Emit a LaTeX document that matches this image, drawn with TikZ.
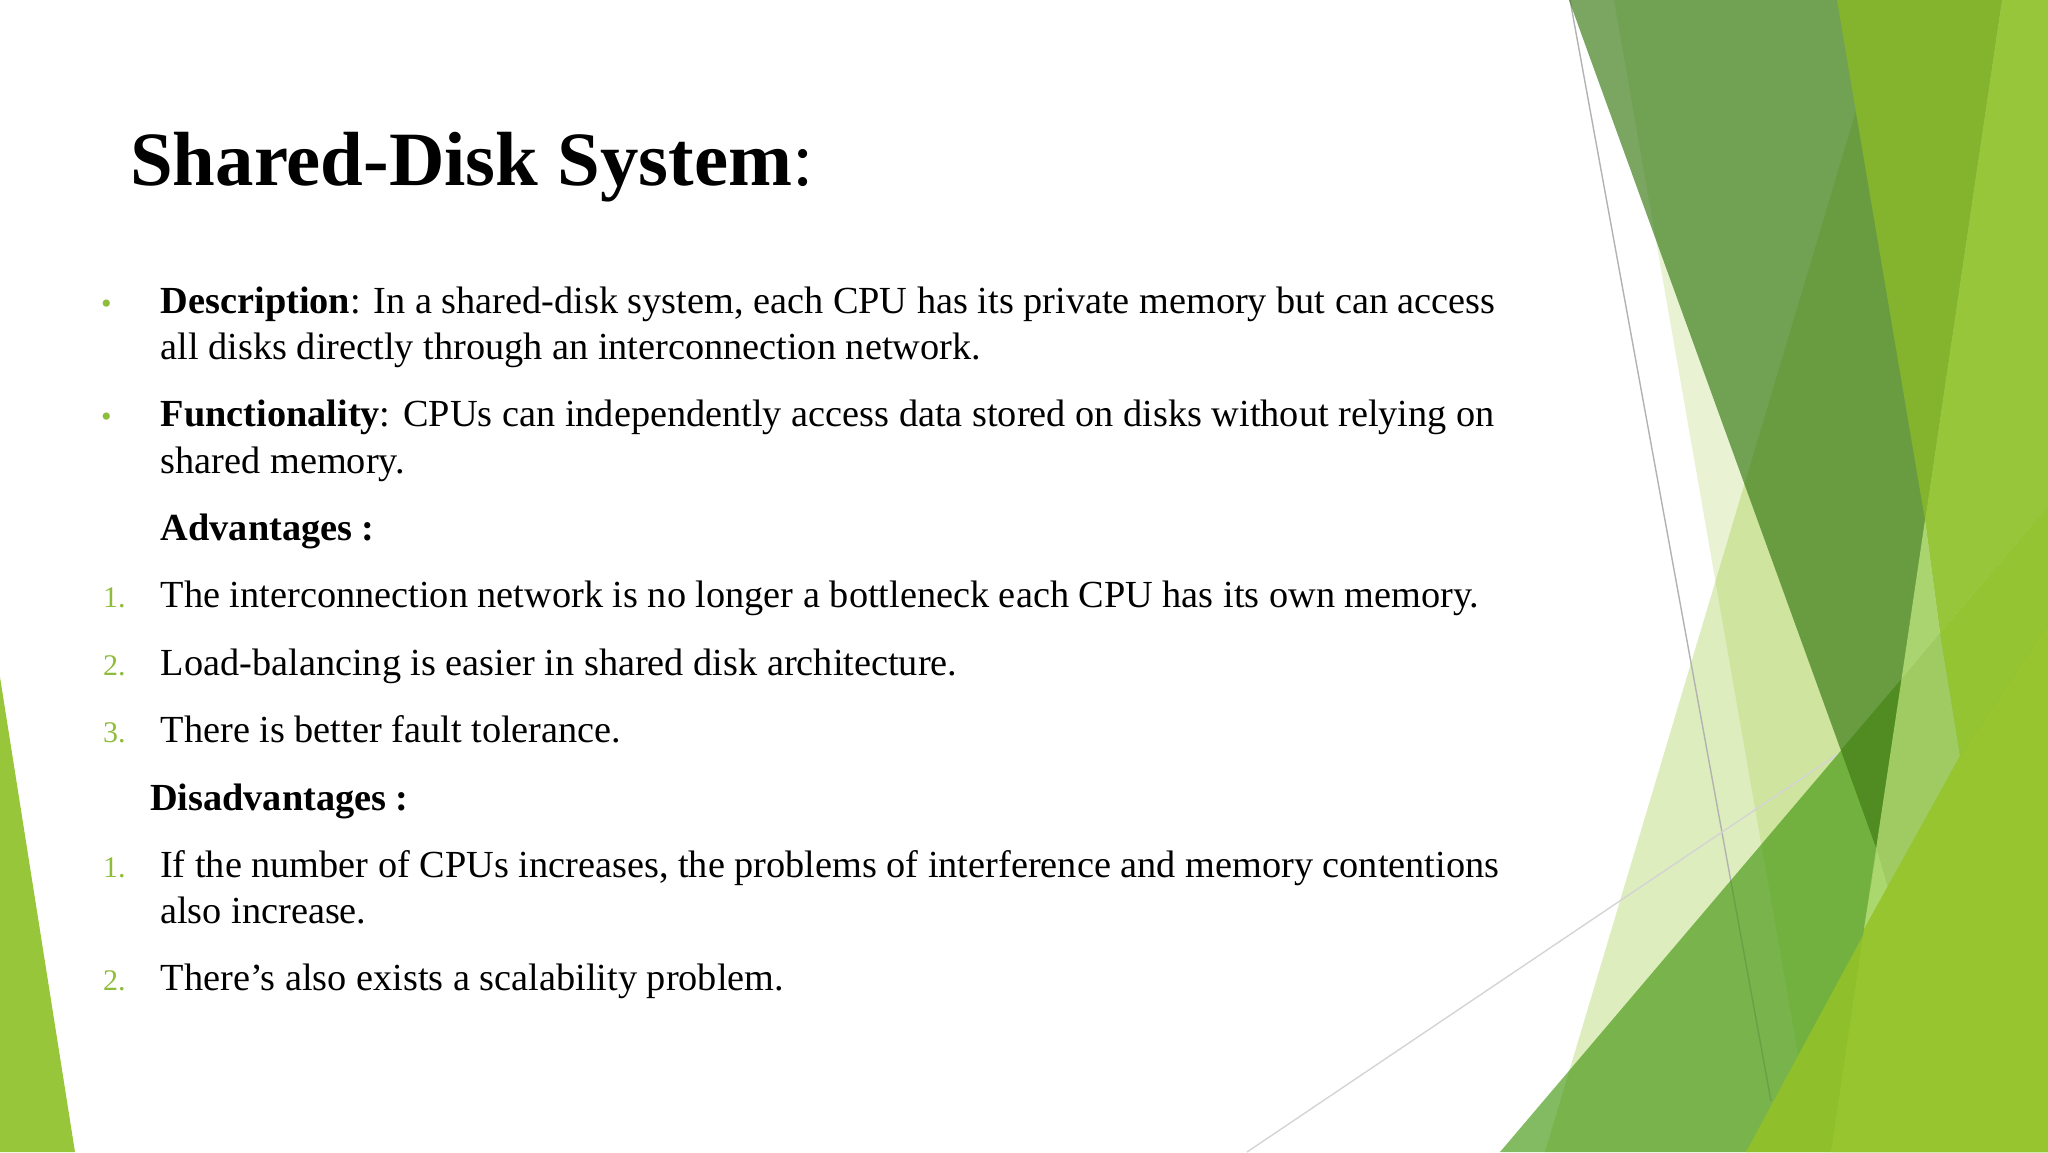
\documentclass[tikz,border=0pt]{standalone}
\usepackage{fontspec}
\setmainfont{Liberation Serif}
\definecolor{facetgreen}{HTML}{90C226}
\definecolor{deepgreen}{RGB}{56,122,19}
\definecolor{midgreen}{RGB}{65,150,14}
\definecolor{numgreen}{HTML}{8FBC3A}
\tikzset{
	bodyline/.style={anchor=base west, inner sep=0pt, font=\fontsize{38.3}{46}\selectfont},
	headline/.style={anchor=base west, inner sep=0pt, font=\fontsize{38.3}{46}\selectfont\bfseries},
	numline/.style={anchor=base west, inner sep=0pt, text=numgreen, font=\fontsize{30}{36}\selectfont},
	dotline/.style={anchor=base west, inner sep=0pt, text=numgreen, font=\fontsize{30}{36}\selectfont},
	thinline/.style={line width=1.4pt}
}

\begin{document}
\begin{tikzpicture}[x=1pt, y=-1pt]
		\useasboundingbox (0, 0) rectangle (2048, 1152);
		\fill[facetgreen, opacity=0.2] (1614, 0) -- (1815, 1152) -- (2048, 1152) -- (2048, 0) -- cycle;
		\fill[facetgreen, opacity=0.3] (1889, 0) -- (1545, 1152) -- (2048, 1152) -- (2048, 0) -- cycle;
		\draw[thinline, color=black!30] (1570, 0) -- (1771, 1101);
		\draw[thinline, color=black!17] (1247, 1152) -- (1838, 754);
		\fill[deepgreen, opacity=0.67] (1569, 0) -- (2002, 0) -- (1877, 850) -- cycle;
		\fill[fill={rgb,255:red,132;green,179;blue,46}] (1837, 0) -- (2002, 0) -- (1925, 520) -- cycle;
		\fill[midgreen, opacity=0.65] (1500, 1152) -- (2048, 507) -- (2048, 1152) -- cycle;
		\fill[fill={rgb,255:red,80;green,140;blue,34}] (1841, 750) -- (1877, 850) -- (1901.5, 679) -- cycle;
		\fill[fill={rgb,255:red,151;green,198;blue,59}] (2002, 0) -- (2048, 0) -- (2048, 507) -- (1940, 633) -- (1925, 520) -- cycle;
		\fill[fill={rgb,255:red,148;green,196;blue,50}] (2048, 507) -- (2048, 624) -- (1960, 756) -- (1940, 633) -- cycle;
		\fill[fill={rgb,255:red,169;green,212;blue,111}] (1925, 520) -- (1901.5, 679) -- (1940, 633) -- cycle;
		\fill[fill={rgb,255:red,160;green,203;blue,98}] (1901.5, 679) -- (1940, 633) -- (1960, 756) -- (1893, 888) -- (1864, 929) -- cycle;
		\fill[fill={rgb,255:red,171;green,215;blue,111}] (1877, 850) -- (1888, 888) -- (1864, 929) -- cycle;
		\fill[fill={rgb,255:red,143;green,191;blue,43}] (2048, 624) -- (1960, 756) -- (1746, 1152) -- (2048, 1152) -- cycle;
		\fill[fill={rgb,255:red,150;green,197;blue,48}] (1864, 929) -- (1831, 1152) -- (2048, 1152) -- (2048, 624) -- (1960, 756) -- cycle;
		\fill[fill={rgb,255:red,151;green,198;blue,59}] (0, 677) -- (75, 1152) -- (0, 1152) -- cycle;
		\node[anchor=base west, inner sep=0pt, font=\fontsize{76.8}{90}\selectfont] (title) at (130, 185) {\textbf{Shared-Disk System}:};
		\node[dotline] (dot1) at (101, 313) {•};
		\node[bodyline] (desc1) at (160.6, 313) {\textbf{Description}: In a shared-disk system, each CPU has its private memory but can access};
		\node[bodyline] (desc2) at (160.6, 359.5) {all disks directly through an interconnection network.};
		\node[dotline] (dot2) at (101, 426) {•};
		\node[bodyline] (func1) at (160.6, 426) {\textbf{Functionality}: CPUs can independently access data stored on disks without relying on};
		\node[bodyline] (func2) at (160.6, 473) {shared memory.};
		\node[headline] (adv) at (160.6, 540) {Advantages :};
		\node[numline] (advnum1) at (103, 607.5) {1.};
		\node[bodyline] (adv1) at (160.6, 607.5) {The interconnection network is no longer a bottleneck each CPU has its own memory.};
		\node[numline] (advnum2) at (103, 675.5) {2.};
		\node[bodyline] (adv2) at (160.6, 675.5) {Load-balancing is easier in shared disk architecture.};
		\node[numline] (advnum3) at (103, 742) {3.};
		\node[bodyline] (adv3) at (160.6, 742) {There is better fault tolerance.};
		\node[headline] (dis) at (150, 810) {Disadvantages :};
		\node[numline] (disnum1) at (103, 877) {1.};
		\node[bodyline] (dis1) at (160, 877) {If the number of CPUs increases, the problems of interference and memory contentions};
		\node[bodyline] (dis2) at (160, 923) {also increase.};
		\node[numline] (disnum2) at (103, 990.6) {2.};
		\node[bodyline] (dis3) at (160.6, 990.6) {There’s also exists a scalability problem.};
		\end{tikzpicture}
\end{document}
